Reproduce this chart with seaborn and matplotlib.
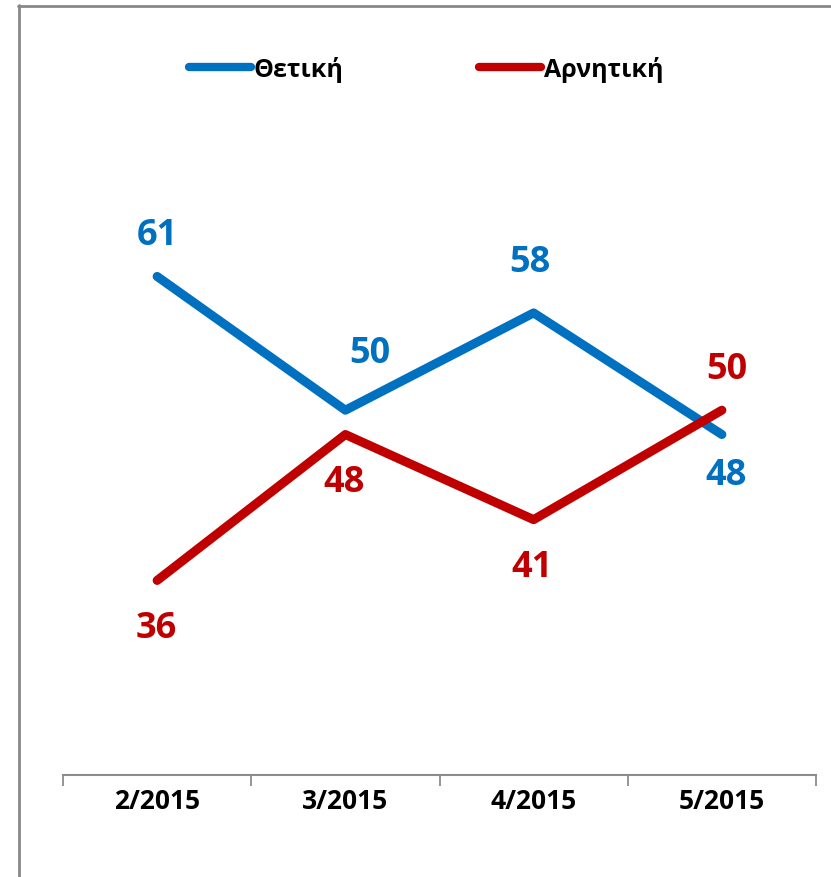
import matplotlib
matplotlib.use("Agg")
import matplotlib.pyplot as plt
from matplotlib.lines import Line2D
from matplotlib import font_manager
import seaborn as sns
import pandas as pd

months = ['2/2015', '3/2015', '4/2015', '5/2015']
positive = [61, 50, 58, 48]
negative = [36, 48, 41, 50]
series_names = ['Θετική', 'Αρνητική']
colors = ['#0070C0', '#C00000']

sns.set_theme(style='white')
plt.rcParams['font.family'] = ['Open Sans', 'DejaVu Sans']

installed = {f.name for f in font_manager.fontManager.ttflist}
tick_font = 'Liberation Sans Narrow' if 'Liberation Sans Narrow' in installed else 'Open Sans'

df = pd.DataFrame({
    'month': months * 2,
    'value': positive + negative,
    'series': [series_names[0]] * 4 + [series_names[1]] * 4,
})

W, H = 831, 878
fig = plt.figure(figsize=(W / 100, H / 100), dpi=100)
ax = fig.add_axes([63 / W, 1 - 776 / H, (816 - 63) / W, (776 - 168) / H])

sns.lineplot(data=df, x='month', y='value', hue='series', palette=colors,
             linewidth=6.5, ax=ax, legend=False, sort=False)
for ln in ax.lines:
    ln.set_solid_capstyle('round')

ax.set_xlim(-0.5, 3.5)
ax.set_ylim(20, 70)
ax.set_xlabel('')
ax.set_ylabel('')
ax.set_yticks([])
for s in ['top', 'right', 'left']:
    ax.spines[s].set_visible(False)
ax.spines['bottom'].set_color('#8c8c8c')
ax.spines['bottom'].set_linewidth(1.5)
ax.set_xticks(range(len(months)))
ax.set_xticklabels(months, fontsize=19, fontweight='bold', family=[tick_font, 'DejaVu Sans'])
ax.set_xticks([i - 0.5 for i in range(len(months) + 1)], minor=True)
ax.tick_params(axis='x', which='both', bottom=True)
ax.tick_params(axis='x', which='major', length=0, pad=9, colors='black')
ax.tick_params(axis='x', which='minor', length=8, width=1.3, color='#8c8c8c', direction='out')

pos_off = [(0, 41), (24, 57), (-4, 51), (4, -40)]
neg_off = [(-1, -48), (-1, -47), (-2, -47), (5, 41)]
for vals, offs, c in [(positive, pos_off, colors[0]), (negative, neg_off, colors[1])]:
    for i, (v, o) in enumerate(zip(vals, offs)):
        ax.annotate(str(v), (i, v), xytext=o, textcoords='offset pixels',
                    ha='center', va='center', fontsize=26, fontweight='bold', color=c)

handles = [Line2D([0], [0], color=c, lw=6, solid_capstyle='round') for c in colors]
leg = fig.legend(handles, series_names, loc='center', bbox_to_anchor=(426 / W, 1 - 70 / H),
                 ncol=2, frameon=False, handlelength=2.5, handletextpad=0.1,
                 columnspacing=5.4, labelcolor='black', prop={'size': 18, 'weight': 'bold'})

# outer border
fig.add_artist(Line2D([18.5 / W, 18.5 / W], [0, 1 - 6 / H], transform=fig.transFigure,
                      color='#888888', lw=2))
fig.add_artist(Line2D([18 / W, 1], [1 - 6.5 / H, 1 - 6.5 / H], transform=fig.transFigure,
                      color='#888888', lw=2))

fig.savefig('out.png', dpi=100)
